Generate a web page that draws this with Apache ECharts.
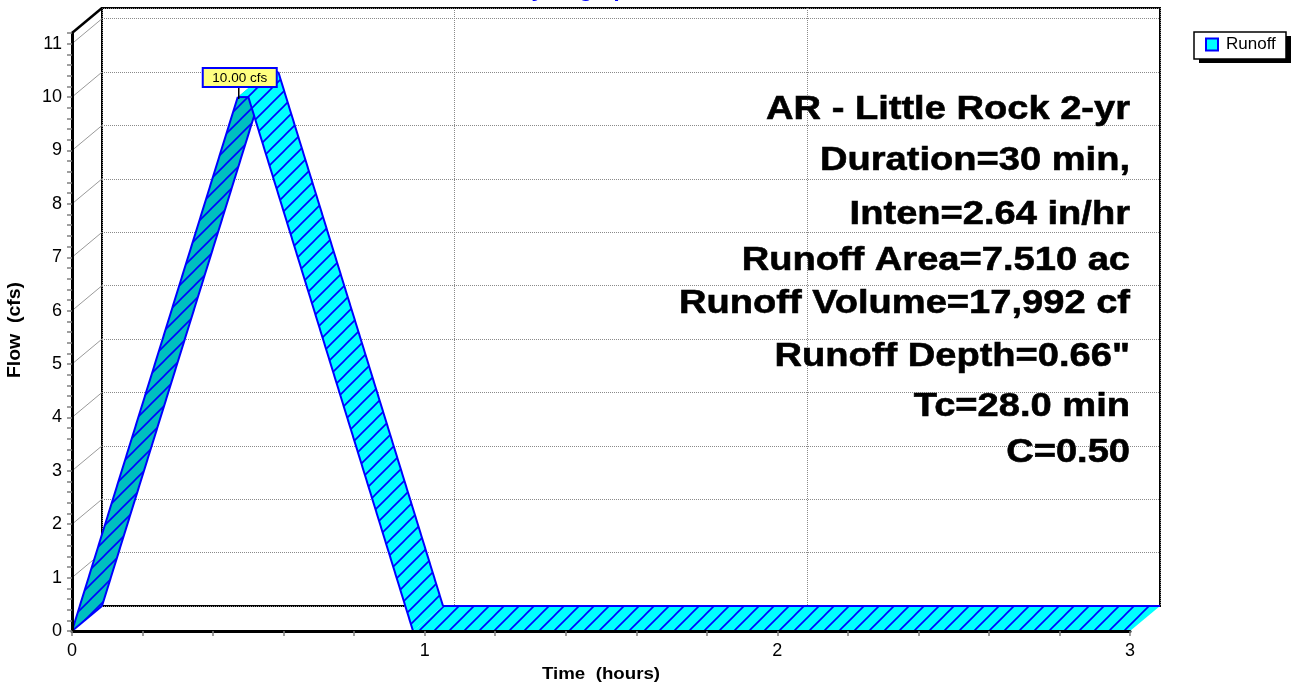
<!DOCTYPE html>
<html>
<head>
<meta charset="utf-8">
<script src="https://cdn.jsdelivr.net/npm/echarts@6/dist/echarts.min.js"></script>
<style>
html,body{margin:0;padding:0;background:#ffffff;}
#chart{width:1294px;height:685px;}
</style>
</head>
<body>
<div id="chart"></div>
<script>
// ---------------- data ----------------
const seriesName = 'Runoff';
const times = [0, 0.47, 0.50, 0.967, 3.00];      // hours
const flows = [0, 10.00, 10.00, 0, 0];           // cfs
const xLabelValues = [0, 1, 2, 3];
const yLabelValues = [0, 1, 2, 3, 4, 5, 6, 7, 8, 9, 10, 11];
const wallValues = [1, 2, 3, 4, 5, 6, 7, 8, 9, 10, 11];
const infoLines = [
  'AR - Little Rock 2-yr',
  'Duration=30 min,',
  'Inten=2.64 in/hr',
  'Runoff Area=7.510 ac',
  'Runoff Volume=17,992 cf',
  'Runoff Depth=0.66"',
  'Tc=28.0 min',
  'C=0.50'
];
const titleText = 'Hydrograph';
const xName = 'Time  (hours)';
const yName = 'Flow  (cfs)';

// ---------------- layout / style ----------------
const X_MIN = 0, X_MAX = 3, X_STEP = 0.2;
const Y_MIN = 0, Y_MAX = 11.2, Y_STEP = 0.2;
const FRONT = {left: 72, top: 33, right: 164, bottom: 54};
const DEPTH = {x: 30, y: -25};
const BACK = {left: FRONT.left + DEPTH.x, top: FRONT.top + DEPTH.y,
              right: FRONT.right - DEPTH.x, bottom: FRONT.bottom - DEPTH.y};
const FONT = '"Liberation Sans", Arial, Helvetica, sans-serif';
const INFO_RIGHT = 1130;
const INFO_Y = [110, 161, 215, 261, 304, 357, 407, 453];
const BLUE = '#0000FF';
const CYAN = '#00FFFF';
const TEAL = '#00BFBF';

function makeHatch(bg) {
  const P = 15;
  const c = document.createElement('canvas');
  c.width = P; c.height = P;
  const ctx = c.getContext('2d');
  ctx.fillStyle = bg;
  ctx.fillRect(0, 0, P, P);
  ctx.strokeStyle = BLUE;
  ctx.lineWidth = 1.6;
  ctx.beginPath();
  ctx.moveTo(-1, P + 1); ctx.lineTo(P + 1, -1);
  ctx.moveTo(-P - 1, P + 1); ctx.lineTo(P + 1, -P - 1);
  ctx.moveTo(-1, 2 * P + 1); ctx.lineTo(2 * P + 1, -1);
  ctx.stroke();
  return {image: c, repeat: 'repeat'};
}
const hatchLight = makeHatch(CYAN);
const hatchDark = makeHatch(TEAL);

function isLabel(list, v) {
  return list.some(function (l) { return Math.abs(l - v) < 1e-6; });
}

function renderRibbon(params, api) {
  const i = params.dataIndex;
  if (i >= times.length - 1) return null;
  const a = api.coord([times[i], flows[i]]);
  const b = api.coord([times[i + 1], flows[i + 1]]);
  const a2 = [a[0] + DEPTH.x, a[1] + DEPTH.y];
  const b2 = [b[0] + DEPTH.x, b[1] + DEPTH.y];
  const rising = flows[i + 1] > flows[i];
  const edge = {stroke: BLUE, lineWidth: 2, fill: 'none'};
  const children = [
    {type: 'polygon', shape: {points: [a, b, b2, a2]},
     style: {fill: rising ? hatchDark : hatchLight, stroke: 'none'}},
    {type: 'polyline', shape: {points: [a, b]}, style: edge},
    {type: 'polyline', shape: {points: [a2, b2]}, style: edge}
  ];
  if (i === 0) {
    children.push({type: 'polyline', shape: {points: [a, a2]}, style: edge});
  }
  return {type: 'group', children: children};
}

function renderWall(params, api) {
  const v = api.value(1);
  const p = api.coord([X_MIN, v]);
  const top = Math.abs(v - Y_MAX) < 1e-6;
  return {
    type: 'line',
    shape: {x1: p[0], y1: p[1], x2: p[0] + DEPTH.x, y2: p[1] + DEPTH.y},
    style: {stroke: top ? '#000000' : '#9a9a9a', lineWidth: top ? 2.5 : 1, fill: 'none'}
  };
}

let peakIdx = 0;
flows.forEach(function (q, i) { if (q > flows[peakIdx]) peakIdx = i; });

function renderPeak(params, api) {
  const p = api.coord([api.value(0), api.value(1)]);
  const cx = p[0] + 2;
  const w = 74, h = 19;
  const boxBottom = p[1] - 10;
  return {
    type: 'group',
    children: [
      {type: 'line', shape: {x1: p[0] + 1, y1: p[1] + 2, x2: p[0] + 1, y2: boxBottom},
       style: {stroke: '#000000', lineWidth: 1.5}},
      {type: 'rect', shape: {x: cx - w / 2, y: boxBottom - h, width: w, height: h},
       style: {fill: '#FFFF80', stroke: BLUE, lineWidth: 2}},
      {type: 'text', x: cx, y: boxBottom - h / 2 + 0.5,
       style: {text: flows[peakIdx].toFixed(2) + ' cfs', fill: '#000000',
               font: '13.5px ' + FONT, align: 'center', verticalAlign: 'middle',
               textAlign: 'center', textVerticalAlign: 'middle'}}
    ]
  };
}

const graphics = [];
graphics.push({
  type: 'text', x: 578, y: -9, scaleX: 1.1, z: 10,
  style: {text: titleText, fill: BLUE, font: 'bold 20px ' + FONT,
          align: 'center', verticalAlign: 'middle', textAlign: 'center', textVerticalAlign: 'middle'}
});
infoLines.forEach(function (t, k) {
  graphics.push({
    type: 'text', x: INFO_RIGHT, y: INFO_Y[k], scaleX: 1.12, z: 10,
    style: {text: t, fill: '#000000', stroke: '#000000', lineWidth: 0.6,
            font: 'bold 34px ' + FONT,
            align: 'right', verticalAlign: 'middle', textAlign: 'right', textVerticalAlign: 'middle'}
  });
});
graphics.push({
  type: 'text', x: 601, y: 674, scaleX: 1.1, z: 10,
  style: {text: xName, fill: '#000000', font: 'bold 17px ' + FONT,
          align: 'center', verticalAlign: 'middle', textAlign: 'center', textVerticalAlign: 'middle'}
});
graphics.push({
  type: 'text', x: 15, y: 330, rotation: Math.PI / 2, scaleX: 1.08, z: 10,
  style: {text: yName, fill: '#000000', font: 'bold 18px ' + FONT,
          align: 'center', verticalAlign: 'middle', textAlign: 'center', textVerticalAlign: 'middle'}
});
// legend frame with hard shadow
graphics.push({type: 'rect', z: 3, shape: {x: 1199, y: 36, width: 92, height: 27}, style: {fill: '#000000'}});
graphics.push({type: 'rect', z: 4, shape: {x: 1194, y: 32, width: 92, height: 27},
               style: {fill: '#FFFFFF', stroke: '#000000', lineWidth: 1.5}});

const chart = echarts.init(document.getElementById('chart'), null, {renderer: 'canvas'});
chart.setOption({
  backgroundColor: '#FFFFFF',
  animation: false,
  textStyle: {fontFamily: FONT},
  grid: [
    {left: FRONT.left, top: FRONT.top, right: FRONT.right, bottom: FRONT.bottom, show: false, z: 4},
    {left: BACK.left, top: BACK.top, right: BACK.right, bottom: BACK.bottom, show: true,
     borderColor: '#000000', borderWidth: 2, backgroundColor: 'transparent', z: 1}
  ],
  xAxis: [
    {type: 'value', gridIndex: 0, min: X_MIN, max: X_MAX, interval: X_STEP, z: 4,
     axisLine: {show: true, onZero: false, lineStyle: {color: '#000000', width: 3}},
     axisTick: {show: true, length: 5, lineStyle: {color: '#808080', width: 1.5}},
     axisLabel: {show: true, color: '#000000', fontSize: 18, margin: 11, fontFamily: FONT,
                 formatter: function (v) { return isLabel(xLabelValues, v) ? String(Math.round(v)) : ''; }},
     splitLine: {show: false}},
    {type: 'value', gridIndex: 1, min: X_MIN, max: X_MAX, interval: 1, z: 1,
     axisLine: {show: false}, axisTick: {show: false}, axisLabel: {show: false},
     splitLine: {show: true, lineStyle: {color: '#8a8a8a', width: 1, type: 'dotted'}}}
  ],
  yAxis: [
    {type: 'value', gridIndex: 0, min: Y_MIN, max: Y_MAX, interval: Y_STEP, z: 4,
     axisLine: {show: true, onZero: false, lineStyle: {color: '#000000', width: 3}},
     axisTick: {show: true, length: 5, lineStyle: {color: '#808080', width: 1.5}},
     axisLabel: {show: true, color: '#000000', fontSize: 18, margin: 10, fontFamily: FONT,
                 formatter: function (v) { return isLabel(yLabelValues, v) ? String(Math.round(v)) : ''; }},
     splitLine: {show: false}},
    {type: 'value', gridIndex: 1, min: Y_MIN, max: Y_MAX, interval: 1, z: 1,
     axisLine: {show: false}, axisTick: {show: false}, axisLabel: {show: false},
     splitLine: {show: true, lineStyle: {color: '#8a8a8a', width: 1, type: 'dotted'}}}
  ],
  legend: {
    show: true, left: 1196, top: 33, padding: [3, 4, 3, 9], z: 6,
    itemWidth: 12, itemHeight: 12, itemGap: 4,
    backgroundColor: 'transparent', borderWidth: 0,
    textStyle: {color: '#000000', fontSize: 17, fontFamily: FONT, padding: [0, 0, 0, 3]},
    data: [{name: seriesName, icon: 'rect',
            itemStyle: {color: CYAN, borderColor: BLUE, borderWidth: 2}}],
    selectedMode: false
  },
  graphic: {elements: graphics},
  series: [
    {type: 'custom', name: 'wall', xAxisIndex: 0, yAxisIndex: 0, z: 2, silent: true,
     renderItem: renderWall,
     data: wallValues.concat([Y_MAX]).map(function (v) { return [X_MIN, v]; })},
    {type: 'custom', name: seriesName, xAxisIndex: 0, yAxisIndex: 0, z: 3, silent: true,
     color: CYAN,
     renderItem: renderRibbon,
     encode: {x: 0, y: 1},
     data: times.map(function (t, i) { return [t, flows[i]]; })},
    {type: 'custom', name: 'peak', xAxisIndex: 0, yAxisIndex: 0, z: 5, silent: true,
     renderItem: renderPeak,
     data: [[times[peakIdx], flows[peakIdx]]]}
  ]
});
</script>
</body>
</html>
